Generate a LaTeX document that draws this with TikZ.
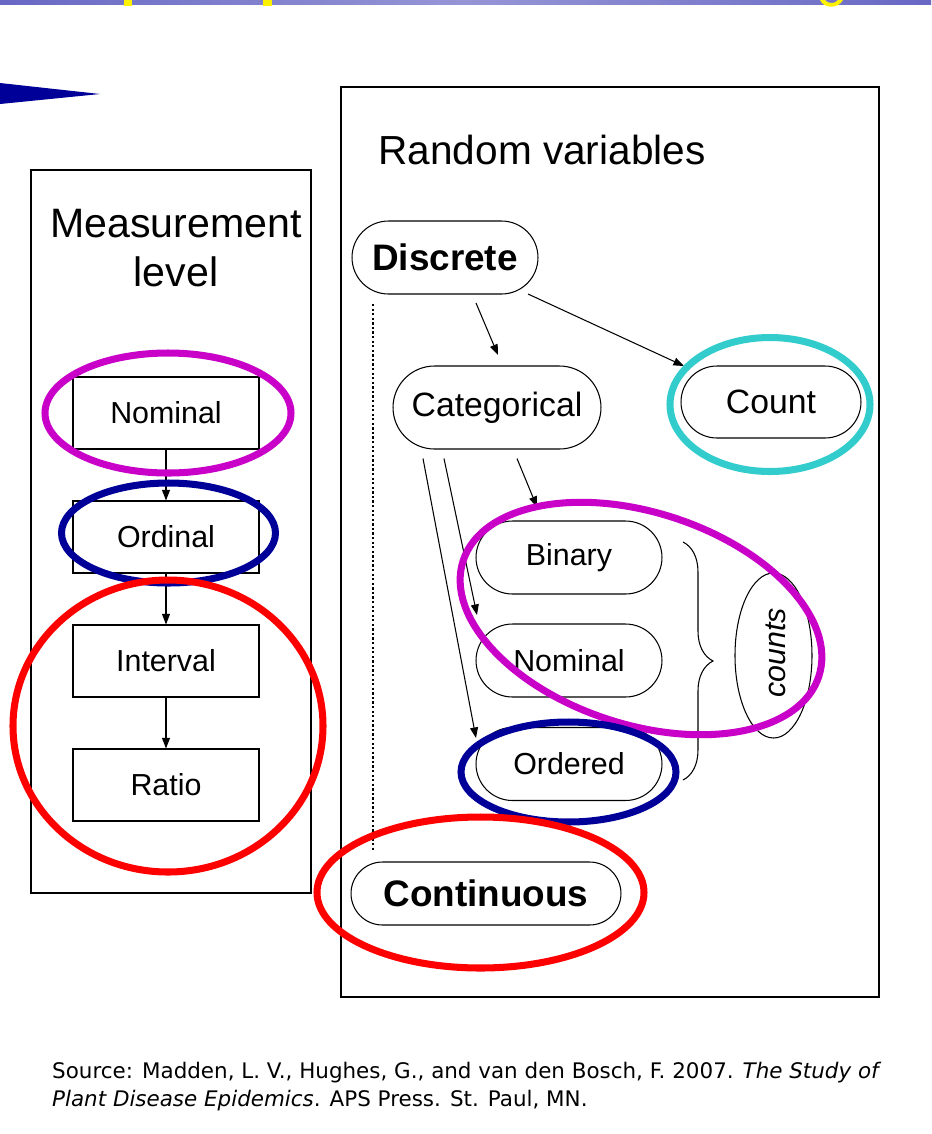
\documentclass[tikz,border=0pt]{standalone}
\usepackage{fontspec}
\setmainfont{Liberation Sans}
\newfontfamily\srcfont{DejaVu Sans}
\usetikzlibrary{shapes.misc,arrows.meta,calc,decorations.pathreplacing}
\definecolor{barblue}{RGB}{104,104,196}
\definecolor{ringmag}{RGB}{200,0,200}
\definecolor{ringnavy}{RGB}{0,0,153}
\definecolor{ringred}{RGB}{255,0,0}
\definecolor{ringcyan}{RGB}{51,204,204}
\tikzset{
  lvlbox/.style={draw, line width=0.6pt, fill=white, minimum width=3.72cm, minimum height=1.44cm, inner sep=0pt, font=\fontsize{17.3}{20}\selectfont},
  pill/.style={draw, line width=0.6pt, rounded rectangle, inner sep=0pt, font=\fontsize{17.3}{20}\selectfont},
  ring/.style={line width=4pt},
  arr/.style={-{Triangle[length=6pt,width=4.5pt]}, line width=0.6pt},
}
\begin{document}
\begin{tikzpicture}[x=0.02cm, y=-0.02cm]
\useasboundingbox (0,0) rectangle (931,1134);
% top of the slide
\shade[left color=barblue, right color=barblue, middle color=barblue!70!white] (0,0) rectangle (931,4);
\fill[yellow] (124,0) rectangle (132,6);
\fill[yellow] (263,0) rectangle (272,6);
\fill[yellow] (820,0) .. controls (824,9) and (838,9) .. (843,0) -- (838,0) .. controls (835,4) and (828,4) .. (825,0) -- cycle;
\fill[ringnavy] (0,83) -- (100,94) -- (0,104) -- cycle;
% frames
\draw[line width=0.6pt] (31,170) rectangle (311,893);
\draw[line width=0.6pt] (341,87) rectangle (879,997);
\node[align=center, font=\fontsize{23.4}{27.8}\selectfont] (mlvl) at (176,248) {Measurement\\level};
\node[font=\fontsize{23.1}{27}\selectfont] (rvar) at (542,150) {Random variables};
% measurement levels
\node[lvlbox] (nomL) at (166,413) {Nominal};
\node[lvlbox] (ordL) at (166,537) {Ordinal};
\node[lvlbox] (intL) at (166,661) {Interval};
\node[lvlbox] (ratL) at (166,785) {Ratio};
\draw[arr] (nomL) -- (ordL);
\draw[arr] (ordL) -- (intL);
\draw[arr] (intL) -- (ratL);
% random variables
\node[pill, minimum width=3.72cm, minimum height=1.46cm, font=\fontsize{21}{24}\selectfont\bfseries] (disc) at (445,257.5) {Discrete};
\node[pill, minimum width=4.16cm, minimum height=1.66cm, font=\fontsize{19.2}{22}\selectfont] (cat) at (497,407.5) {Categorical};
\node[pill, minimum width=3.6cm, minimum height=1.44cm, font=\fontsize{19.2}{22}\selectfont] (cnt) at (771,402) {Count};
\node[pill, minimum width=3.72cm, minimum height=1.46cm] (bin) at (569,557.5) {Binary};
\node[pill, minimum width=3.72cm, minimum height=1.46cm] (nom) at (569,660.5) {Nominal};
\node[pill, minimum width=3.72cm, minimum height=1.46cm] (ordd) at (569,764) {Ordered};
\node[pill, minimum width=5.4cm, minimum height=1.26cm, font=\fontsize{21}{24}\selectfont\bfseries] (cont) at (486,893.5) {Continuous};
\draw[arr] ($(disc.center)+(31,45.5)$) -- ($(cat.center)+(1,-52.5)$);
\draw[arr] ($(disc.center)+(83,36.5)$) -- ($(cnt.center)+(-87,-36)$);
\draw[arr] ($(cat.south)+(-74,9)$) -- ($(ordd.center)+(-93,-26)$);
\draw[arr] ($(cat.south)+(-53,9)$) -- ($(nom.center)+(-92,-45.5)$);
\draw[arr] ($(cat.south)+(20,9)$) -- ($(bin.center)+(-32,-50.5)$);
\draw[line width=1.3pt, dash pattern=on 1.3pt off 1.3pt] ($(disc.center)+(-72,46.5)$) -- ($(cont.center)+(-113,-43.5)$);
% brace and counts
\coordinate (brtop) at (683,542);
\coordinate (brbot) at (683,780);
\draw[line width=0.6pt, decorate, decoration={brace, amplitude=0.6cm}] (brtop) -- (brbot);
\draw[line width=0.6pt] (773.5,655.5) ellipse [x radius=38.5, y radius=82.5];
\node[rotate=90, font=\fontsize{17.3}{20}\selectfont\itshape] (cnts) at (776,653) {counts};
% rings
\draw[ring, ringmag] (168,413) ellipse [x radius=123, y radius=60];
\draw[ring, ringnavy] (168.5,533) ellipse [x radius=107, y radius=50];
\draw[ring, ringred] (168,726) ellipse [x radius=155, y radius=146];
\draw[ring, ringcyan] (770,404.5) ellipse [x radius=100, y radius=67];
\draw[ring, ringmag, rotate around={-18:(641,618.5)}] (641,618.5) ellipse [x radius=187, y radius=106];
\draw[ring, ringnavy] (568.5,772) ellipse [x radius=107.5, y radius=50];
\draw[ring, ringred] (480.5,892.5) ellipse [x radius=163.5, y radius=75.5];
% source
\node[anchor=north west, align=left, font=\srcfont\fontsize{12.2}{16}\selectfont] (src) at (46,1056) {Source: Madden, L. V., Hughes, G., and van den Bosch, F. 2007. \textit{The Study of}\\\textit{Plant Disease Epidemics}. APS Press. St. Paul, MN.};
\end{tikzpicture}
\end{document}
